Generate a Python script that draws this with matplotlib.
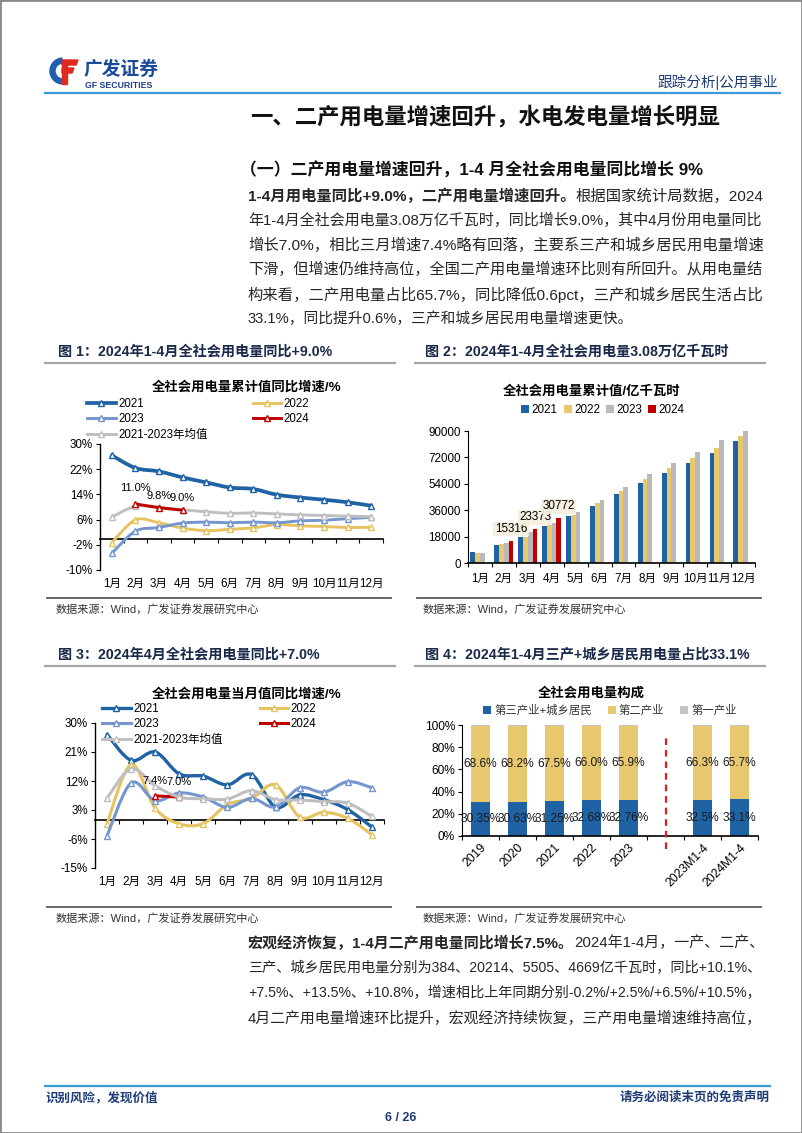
import matplotlib
matplotlib.use('Agg')
import matplotlib.pyplot as plt
import numpy as np
from matplotlib.path import Path
from matplotlib.patches import PathPatch, Wedge, Polygon, Rectangle, Patch
from matplotlib.lines import Line2D

plt.rcParams['font.family'] = ['Liberation Sans', 'Noto Sans CJK SC']
plt.rcParams['axes.unicode_minus'] = False

# ---------------- data ----------------
months = ['1月', '2月', '3月', '4月', '5月', '6月', '7月', '8月', '9月', '10月', '11月', '12月']

# Fig 1: cumulative YoY growth (%)
cum_2021 = [26.4, 22.4, 21.3, 19.4, 17.8, 16.2, 15.7, 13.9, 13.0, 12.3, 11.5, 10.4]
cum_2022 = [-1.3, 5.9, 5.0, 3.3, 2.5, 2.9, 3.4, 4.4, 4.0, 3.8, 3.5, 3.6]
cum_2023 = [-4.7, 2.3, 3.5, 4.9, 5.2, 5.0, 5.2, 5.0, 5.6, 5.8, 6.3, 6.7]
cum_avg = [6.8, 10.2, 9.9, 9.1, 8.5, 8.0, 8.1, 7.8, 7.5, 7.3, 7.1, 6.9]
cum_2024_months = ['2月', '3月', '4月']
cum_2024 = [11.0, 9.8, 9.0]

# Fig 2: cumulative consumption (100 million kWh)
bar_2021 = [7250, 12470, 17900, 25400, 32000, 39200, 46900, 54600, 61700, 68200, 74800, 83000]
bar_2022 = [7030, 13150, 17900, 25800, 32400, 40600, 49200, 57600, 64800, 71400, 78400, 86600]
bar_2023 = [6800, 13800, 20900, 27300, 34900, 42800, 51700, 60800, 68500, 75900, 83600, 90000]
bar_2024_months = ['2月', '3月', '4月']
bar_2024 = [15316, 23373, 30772]

# Fig 3: monthly YoY growth (%)
mon_2021 = [26.4, 18.4, 21.0, 14.2, 13.5, 10.8, 14.0, 3.9, 7.7, 6.2, 3.1, -2.3]
mon_2022 = [-1.2, 17.1, 3.6, -1.3, -1.2, 4.7, 6.6, 10.8, 0.8, 2.3, 0.4, -4.7]
mon_2023 = [-5.0, 11.4, 5.9, 8.3, 7.0, 3.8, 6.6, 3.9, 9.9, 8.5, 11.8, 9.9]
mon_avg = [6.7, 15.8, 10.5, 7.0, 6.5, 6.4, 9.0, 6.2, 6.1, 5.6, 5.1, 1.0]
mon_2024_months = ['3月', '4月']
mon_2024 = [7.4, 7.0]

# Fig 4: structure (%)
share_cats = ['2019', '2020', '2021', '2022', '2023', '2023M1-4', '2024M1-4']
share_tertiary = [30.35, 30.63, 31.25, 32.68, 32.76, 32.5, 33.1]
share_secondary = [68.6, 68.2, 67.5, 66.0, 65.9, 66.3, 65.7]
share_primary = [1.1, 1.2, 1.3, 1.3, 1.3, 1.2, 1.2]
n_annual = 5

# ---------------- styling ----------------
C21, C22, C23, C24, CAVG = '#1f63a5', '#e6c35f', '#7595cf', '#c00000', '#bfbfbf'
B21, B22, B23, B24 = '#1f63a5', '#e8c86e', '#b9b9b9', '#c00000'
NAVY = '#1b2a4a'

W, H = 802, 1133
fig = plt.figure(figsize=(W / 100, H / 100), dpi=100)

bg = fig.add_axes([0, 0, 1, 1])
bg.set_xlim(0, W)
bg.set_ylim(H, 0)
bg.axis('off')
bg.patch.set_alpha(0)


def add_ax(l, t, r, b):
    return fig.add_axes([l / W, 1 - b / H, (r - l) / W, (b - t) / H])


renderer = fig.canvas.get_renderer()


def text_line(segs, x0, y, size, target=None, color='#1a1a1a'):
    ts = []
    for s, bold in segs:
        ts.append(bg.text(x0, y, s, fontsize=size, fontweight='bold' if bold else 'normal',
                          va='center', ha='left', color=color))
    ws = [t.get_window_extent(renderer).width for t in ts]
    if target:
        sc = max(0.85, min(1.15, target / sum(ws)))
        for t in ts:
            t.set_fontsize(size * sc)
        ws = [t.get_window_extent(renderer).width for t in ts]
    x = x0
    for t, w in zip(ts, ws):
        t.set_x(x)
        x += w


def smooth_path(xs, ys):
    pts = np.column_stack([xs, ys]).astype(float)
    n = len(pts)
    if n < 3:
        return Path(pts)
    verts = [pts[0]]
    codes = [Path.MOVETO]
    for i in range(n - 1):
        p0 = pts[i - 1] if i > 0 else pts[i]
        p1, p2 = pts[i], pts[i + 1]
        p3 = pts[i + 2] if i + 2 < n else pts[i + 1]
        verts += [p1 + (p2 - p0) / 6, p2 - (p3 - p1) / 6, p2]
        codes += [Path.CURVE4] * 3
    return Path(verts, codes)


def draw_series(ax, xs, ys, color, lw, z):
    ax.add_patch(PathPatch(smooth_path(xs, ys), fill=False, edgecolor=color, lw=lw,
                           zorder=z, capstyle='round', joinstyle='round'))
    ax.plot(xs, ys, ls='none', marker='^', ms=4.8, mfc='white', mec=color, mew=1.0, zorder=z + 0.5)


def line_handle(color, lw):
    return Line2D([], [], color=color, lw=lw, marker='^', ms=4.8, mfc='white', mec=color, mew=1.0)


def style_line_axes(ax, ylo, yhi, yticks):
    ax.set_xlim(0.5, 12.5)
    ax.set_ylim(ylo, yhi)
    for s in ['top', 'right']:
        ax.spines[s].set_visible(False)
    ax.spines['bottom'].set_position(('data', 0))
    ax.spines['left'].set_linewidth(1.0)
    ax.spines['bottom'].set_linewidth(1.2)
    ax.set_yticks(yticks)
    ax.set_yticklabels([f'{v}%' for v in yticks])
    ax.tick_params(axis='y', length=3, width=0.8, labelsize=8.4, pad=2)
    ax.set_xticks(np.arange(len(months) + 1) + 0.5)
    ax.set_xticklabels([])
    ax.tick_params(axis='x', length=3, width=0.8, direction='out')
    sec = ax.secondary_xaxis('bottom')
    sec.set_xticks(np.arange(1, len(months) + 1))
    sec.set_xticklabels(months)
    sec.tick_params(length=0, pad=6, labelsize=8.4)
    sec.spines['bottom'].set_visible(False)
    ax.patch.set_alpha(0)


# ---------------- page frame / header ----------------
fig.add_artist(Rectangle((0, 0), 1, 1, transform=fig.transFigure, fill=False, ec='#8a8a8a', lw=2))

bg.add_patch(Wedge((63, 71), 13, 95, 265, width=5, color='#1f5fb0'))
bg.add_patch(Polygon([(62, 60), (78, 60), (76, 65), (62, 65)], color='#e02a20'))
bg.add_patch(Polygon([(62, 68), (74, 68), (72, 73), (62, 73)], color='#e02a20'))
bg.add_patch(Polygon([(62, 60), (67, 60), (67, 84), (62, 84)], color='#e02a20'))
bg.text(84, 70, '广发证券', fontsize=13.5, fontweight='bold', color='#1a4a9a', va='center', ha='left')
bg.text(85, 85, 'GF SECURITIES', fontsize=6.3, fontweight='bold', color='#1a3f8c', va='center', ha='left')
bg.text(778, 82, '跟踪分析|公用事业', fontsize=10.5, color='#1f3b73', va='center', ha='right')
bg.plot([45, 780], [93, 93], color='#3a9ad9', lw=1.6)

text_line([('一、二产用电量增速回升，水电发电量增长明显', True)], 250, 117, 15.5, target=470, color='#111111')
text_line([('（一）二产用电量增速回升，1-4 月全社会用电量同比增长 9%', True)], 240, 170, 11.8, target=462,
          color='#111111')

PX0, PW = 248, 516
BODY = '#262626'
para1 = [
    [('1-4月用电量同比+9.0%，二产用电量增速回升。', True), ('根据国家统计局数据，2024', False)],
    [('年1-4月全社会用电量3.08万亿千瓦时，同比增长9.0%，其中4月份用电量同比', False)],
    [('增长7.0%，相比三月增速7.4%略有回落，主要系三产和城乡居民用电量增速', False)],
    [('下滑，但增速仍维持高位，全国二产用电量增速环比则有所回升。从用电量结', False)],
    [('构来看，二产用电量占比65.7%，同比降低0.6pct，三产和城乡居民生活占比', False)],
    [('33.1%，同比提升0.6%，三产和城乡居民用电量增速更快。', False)],
]
for i, segs in enumerate(para1):
    text_line(segs, PX0, 196 + i * 24.6, 10.6, target=PW if i < len(para1) - 1 else None, color=BODY)

para2 = [
    [('宏观经济恢复，1-4月二产用电量同比增长7.5%。', True), ('2024年1-4月，一产、二产、', False)],
    [('三产、城乡居民用电量分别为384、20214、5505、4669亿千瓦时，同比+10.1%、', False)],
    [('+7.5%、+13.5%、+10.8%，增速相比上年同期分别-0.2%/+2.5%/+6.5%/+10.5%，', False)],
    [('4月二产用电量增速环比提升，宏观经济持续恢复，三产用电量增速维持高位，', False)],
]
for i, segs in enumerate(para2):
    text_line(segs, PX0, 943 + i * 25.3, 10.6, target=PW, color=BODY)

# footer
bg.plot([45, 770], [1086, 1086], color='#3a9ad9', lw=1.6)
bg.text(45, 1098, '识别风险，发现价值', fontsize=9, fontweight='bold', color='#1d3c78', va='center', ha='left')
bg.text(770, 1098, '请务必阅读末页的免责声明', fontsize=9, fontweight='bold', color='#1d3c78', va='center', ha='right')
bg.text(401, 1118, '6 / 26', fontsize=9, fontweight='bold', color='#1d3c78', va='center', ha='center')


# chart frame decorations
def chart_frame(x0, x1, head_y, bottom_y, title_x, title):
    bg.text(title_x, head_y, title, fontsize=10.2, fontweight='bold', color=NAVY, va='center', ha='left')
    bg.plot([x0, x1], [head_y + 11, head_y + 11], color='#a6a6a6', lw=1.6)
    bg.plot([x0 + 2, x1 - 4], [bottom_y, bottom_y], color='#595959', lw=1.3)
    bg.text(title_x - 2, bottom_y + 11, '数据来源：Wind，广发证券发展研究中心', fontsize=8, color='#333333',
            va='center', ha='left')


chart_frame(45, 395, 352, 598, 58, '图 1：2024年1-4月全社会用电量同比+9.0%')
chart_frame(415, 765, 352, 598, 425, '图 2：2024年1-4月全社会用电量3.08万亿千瓦时')
chart_frame(45, 395, 655, 907, 58, '图 3：2024年4月全社会用电量同比+7.0%')
chart_frame(415, 765, 655, 907, 425, '图 4：2024年1-4月三产+城乡居民用电量占比33.1%')

x = np.arange(1, len(months) + 1)

# ---------------- Fig 1 ----------------
ax1 = add_ax(100, 444, 383, 570)
style_line_axes(ax1, -10, 30, [-10, -2, 6, 14, 22, 30])
draw_series(ax1, x, cum_2022, C22, 2.1, 3)
draw_series(ax1, x, cum_2023, C23, 2.1, 4)
draw_series(ax1, x, cum_avg, CAVG, 2.1, 5)
draw_series(ax1, x, cum_2021, C21, 2.7, 6)
x24 = np.array([months.index(m) + 1 for m in cum_2024_months])
draw_series(ax1, x24, cum_2024, C24, 2.1, 7)
lab_dy = [8, 5, 5]
for xi, v, dy in zip(x24, cum_2024, lab_dy):
    ax1.annotate(f'{v:.1f}%', (xi, v), xytext=(0, dy), textcoords='offset points', ha='center', va='bottom',
                 fontsize=8.0, zorder=10)
bg.text(247, 387, '全社会用电量累计值同比增速/%', fontsize=9.6, fontweight='bold', ha='center', va='center')
h1 = [line_handle(C21, 2.7), line_handle(C23, 2.1), line_handle(CAVG, 2.1), line_handle(C22, 2.1),
      line_handle(C24, 2.1)]
ax1.legend(h1, ['2021', '2023', '2021-2023年均值', '2022', '2024'], ncol=2, loc='upper left',
           bbox_to_anchor=(87 / W, 1 - 398 / H), bbox_transform=fig.transFigure, frameon=False,
           fontsize=8.3, handlelength=2.5, handletextpad=0.2, labelspacing=0.3, columnspacing=3.9,
           borderpad=0, borderaxespad=0)

# ---------------- Fig 2 ----------------
ax2 = add_ax(468, 431, 755, 563)
bw = 0.2
ax2.bar(x - 0.3, bar_2021, bw, color=B21, label='2021')
ax2.bar(x - 0.1, bar_2022, bw, color=B22, label='2022')
ax2.bar(x + 0.1, bar_2023, bw, color=B23, label='2023')
xb24 = np.array([months.index(m) + 1 for m in bar_2024_months])
ax2.bar(xb24 + 0.3, bar_2024, bw, color=B24, label='2024')
for xi, v in zip(xb24, bar_2024):
    ax2.annotate(f'{v}', (xi + 0.3, v), xytext=(0, 4), textcoords='offset points', ha='center', va='bottom',
                 fontsize=8.4, zorder=10,
                 bbox=dict(boxstyle='square,pad=0.12', fc='#f4eedf', ec='none', alpha=0.9))
ax2.set_xlim(0.5, 12.5)
ax2.set_ylim(0, 90000)
ax2.set_yticks([0, 18000, 36000, 54000, 72000, 90000])
ax2.set_xticks(x)
ax2.set_xticklabels(months)
ax2.set_xticks(np.arange(len(months) + 1) + 0.5, minor=True)
ax2.tick_params(axis='x', which='major', length=0, pad=7, labelsize=8.4)
ax2.tick_params(axis='x', which='minor', length=3, width=0.8)
ax2.tick_params(axis='y', length=3, width=0.8, labelsize=8.4, pad=2)
for s in ['top', 'right']:
    ax2.spines[s].set_visible(False)
ax2.spines['bottom'].set_linewidth(1.2)
ax2.patch.set_alpha(0)
bg.text(592, 391, '全社会用电量累计值/亿千瓦时', fontsize=9.6, fontweight='bold', ha='center', va='center')
ax2.legend(loc='center', bbox_to_anchor=(603 / W, 1 - 410 / H), bbox_transform=fig.transFigure, ncol=4,
           frameon=False, fontsize=8.4, handlelength=0.7, handleheight=0.7, handletextpad=0.2,
           columnspacing=0.5, borderpad=0)

# ---------------- Fig 3 ----------------
ax3 = add_ax(95, 723, 384, 868)
style_line_axes(ax3, -15, 30, [-15, -6, 3, 12, 21, 30])
draw_series(ax3, x, mon_2021, C21, 2.4, 3)
draw_series(ax3, x, mon_2022, C22, 2.2, 4)
draw_series(ax3, x, mon_2023, C23, 2.2, 5)
xm24 = np.array([months.index(m) + 1 for m in mon_2024_months])
draw_series(ax3, xm24, mon_2024, C24, 2.2, 6)
draw_series(ax3, x, mon_avg, CAVG, 2.2, 7)
for xi, v in zip(xm24, mon_2024):
    ax3.annotate(f'{v:.1f}%', (xi, v), xytext=(0, 7), textcoords='offset points', ha='center', va='bottom',
                 fontsize=8.0, zorder=10)
bg.text(247, 694, '全社会用电量当月值同比增速/%', fontsize=9.6, fontweight='bold', ha='center', va='center')
h3 = [line_handle(C21, 2.4), line_handle(C23, 2.2), line_handle(CAVG, 2.2), line_handle(C22, 2.2),
      line_handle(C24, 2.2)]
ax3.legend(h3, ['2021', '2023', '2021-2023年均值', '2022', '2024'], ncol=2, loc='upper left',
           bbox_to_anchor=(102 / W, 1 - 703 / H), bbox_transform=fig.transFigure, frameon=False,
           fontsize=8.3, handlelength=2.5, handletextpad=0.2, labelspacing=0.3, columnspacing=3.2,
           borderpad=0, borderaxespad=0)

# ---------------- Fig 4 ----------------
ax4 = add_ax(462, 725, 758, 836)
idx = np.arange(len(share_cats))
pos = idx + (idx >= n_annual)
gap_pos = n_annual
sw = 0.52
t_arr = np.array(share_tertiary)
s_arr = np.array(share_secondary)
ax4.bar(pos, share_tertiary, sw, color='#1f63a5', label='第三产业+城乡居民')
ax4.bar(pos, share_secondary, sw, bottom=t_arr, color='#e8c86e', label='第二产业')
ax4.bar(pos, share_primary, sw, bottom=t_arr + s_arr, color='#c4c4c4', label='第一产业')
for p, tv, sv in zip(pos, share_tertiary, share_secondary):
    ax4.text(p, tv / 2, f'{tv:g}%', ha='center', va='center', fontsize=8.6, color='#1a1a1a', zorder=10)
    ax4.text(p, tv + sv / 2, f'{sv:.1f}%', ha='center', va='center', fontsize=8.6, color='#1a1a1a', zorder=10)
ax4.plot([gap_pos, gap_pos], [-12, 92], color='#e0201c', lw=1.6, ls=(0, (3, 2.2)), clip_on=False, zorder=5)
ax4.set_xlim(-0.5, len(share_cats) + 0.5)
ax4.set_ylim(0, 100)
ax4.set_yticks([0, 20, 40, 60, 80, 100])
ax4.set_yticklabels([f'{v}%' for v in [0, 20, 40, 60, 80, 100]])
ax4.set_xticks(pos)
ax4.set_xticklabels(share_cats, rotation=45, ha='right', va='top', rotation_mode='anchor')
ax4.set_xticks(np.arange(len(share_cats) + 2) - 0.5, minor=True)
ax4.tick_params(axis='x', which='major', length=0, pad=4, labelsize=8.8)
ax4.tick_params(axis='x', which='minor', length=3, width=0.8)
ax4.tick_params(axis='y', length=3, width=0.8, labelsize=8.6, pad=2)
for s in ['top', 'right']:
    ax4.spines[s].set_visible(False)
ax4.spines['bottom'].set_linewidth(1.2)
ax4.patch.set_alpha(0)
bg.text(591, 693, '全社会用电量构成', fontsize=9.6, fontweight='bold', ha='center', va='center')
ax4.legend(loc='center', bbox_to_anchor=(610 / W, 1 - 710 / H), bbox_transform=fig.transFigure, ncol=3,
           frameon=False, fontsize=8.2, handlelength=0.7, handleheight=0.7, handletextpad=0.3,
           columnspacing=1.4, borderpad=0, labelcolor='#333333')

fig.savefig('out.png', dpi=100)
